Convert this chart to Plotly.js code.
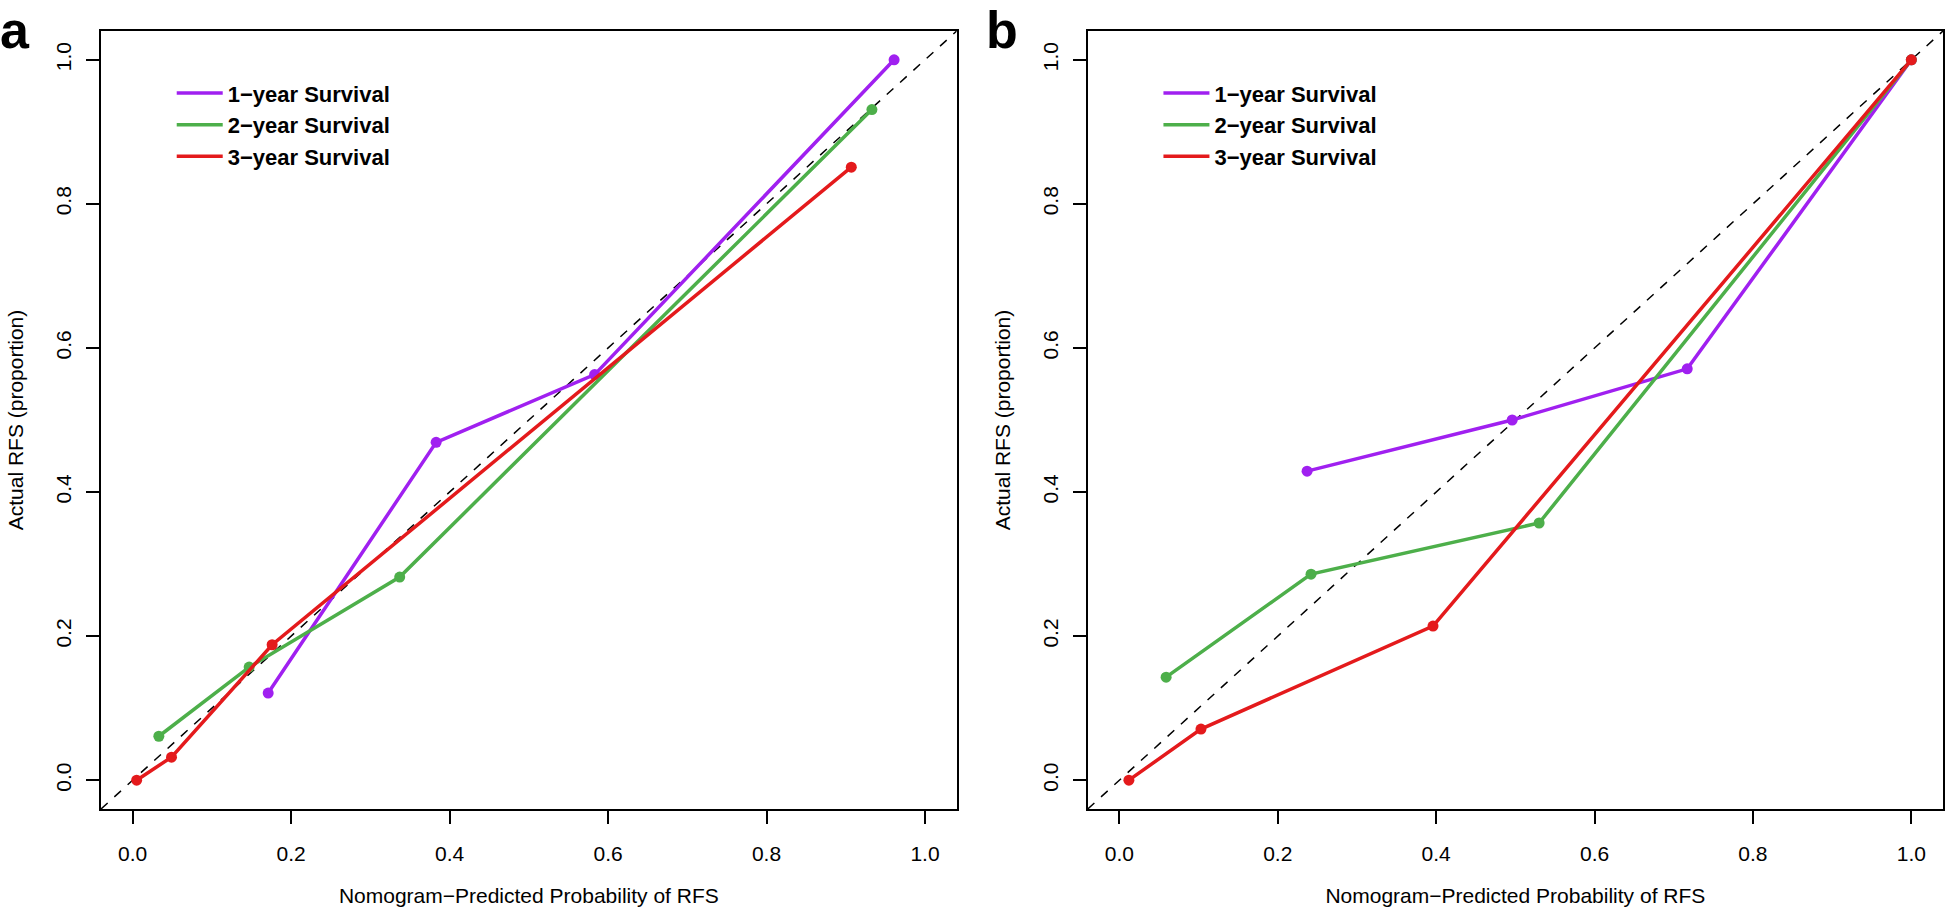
<!DOCTYPE html>
<html>
<head>
<meta charset="utf-8">
<script src="https://cdn.plot.ly/plotly-3.0.1.min.js"></script>
<style>html,body{margin:0;padding:0;background:#fff;}#chart{width:1946px;height:915px;}</style>
</head>
<body>
<div id="chart"></div>
<script>
// ---- data ----
const seriesNames = ['1\u2212year Survival', '2\u2212year Survival', '3\u2212year Survival'];
const seriesColors = ['#A020F0', '#4DAF4A', '#E41A1C'];

// panel a
const a1x = [0.171, 0.383, 0.583, 0.961];
const a1y = [0.121, 0.469, 0.563, 1.000];
const a2x = [0.033, 0.147, 0.337, 0.933];
const a2y = [0.061, 0.157, 0.282, 0.931];
const a3x = [0.005, 0.049, 0.176, 0.907];
const a3y = [0.000, 0.032, 0.188, 0.851];

// panel b
const b1x = [0.237, 0.496, 0.717, 1.000];
const b1y = [0.429, 0.500, 0.571, 1.000];
const b2x = [0.059, 0.242, 0.530, 1.000];
const b2y = [0.143, 0.286, 0.357, 1.000];
const b3x = [0.012, 0.103, 0.396, 1.000];
const b3y = [0.000, 0.071, 0.214, 1.000];

const tickVals = [0, 0.2, 0.4, 0.6, 0.8, 1.0];
const tickText = ['0.0', '0.2', '0.4', '0.6', '0.8', '1.0'];
const axisRange = [-0.04, 1.04];
const xTitle = 'Nomogram\u2212Predicted Probability of RFS';
const yTitle = 'Actual RFS (proportion)';
const panelLabels = ['a', 'b'];

// ---- build ----
const FONT = 'Liberation Sans, Arial, Helvetica, sans-serif';
const traces = [];
function addSeries(xs, ys, i, xa, ya, legendId) {
  traces.push({
    x: xs, y: ys, xaxis: xa, yaxis: ya, type: 'scatter', mode: 'lines',
    name: seriesNames[i], legend: legendId, showlegend: true,
    line: {color: seriesColors[i], width: 3.5}, hoverinfo: 'skip'
  });
  traces.push({
    x: xs, y: ys, xaxis: xa, yaxis: ya, type: 'scatter', mode: 'markers',
    name: seriesNames[i], showlegend: false,
    marker: {color: seriesColors[i], size: 11}, hoverinfo: 'x+y'
  });
}
addSeries(a1x, a1y, 0, 'x', 'y', 'legend');
addSeries(a2x, a2y, 1, 'x', 'y', 'legend');
addSeries(a3x, a3y, 2, 'x', 'y', 'legend');
addSeries(b1x, b1y, 0, 'x2', 'y2', 'legend2');
addSeries(b2x, b2y, 1, 'x2', 'y2', 'legend2');
addSeries(b3x, b3y, 2, 'x2', 'y2', 'legend2');

function axis(extra) {
  return Object.assign({
    range: axisRange, showgrid: false, zeroline: false,
    showline: true, mirror: true, linecolor: '#000', linewidth: 1.5,
    ticks: 'outside', ticklen: 13, tickwidth: 1.5, tickcolor: '#000',
    tickmode: 'array', tickvals: tickVals, ticktext: tickText,
    tickfont: {family: FONT, size: 21, color: '#000'},
    fixedrange: true
  }, extra);
}

const W = 1946, H = 915;
const M = {l: 101.3, r: 3.3, t: 30.7, b: 106};
const PW = W - M.l - M.r, PH = H - M.t - M.b;
const px = v => (v - M.l) / PW;      // page px -> paper x
const py = v => (H - M.b - v) / PH;  // page px -> paper y

const legendCommon = {
  xanchor: 'left', yanchor: 'top', bgcolor: 'rgba(0,0,0,0)', borderwidth: 0,
  font: {family: FONT, size: 22, color: '#000', weight: 'bold'},
  itemwidth: 46, tracegroupgap: 0
};

const titleFont = {family: FONT, size: 21, color: '#000'};
const layout = {
  width: W, height: H, margin: M,
  paper_bgcolor: '#fff', plot_bgcolor: '#fff',
  font: {family: FONT, color: '#000'},
  xaxis: axis({domain: [0, px(956.7)], anchor: 'y', ticklabelstandoff: 12,
    title: {text: xTitle, font: titleFont, standoff: 24}}),
  yaxis: axis({domain: [0, 1], anchor: 'x', tickangle: -90, ticklabelstandoff: 7,
    title: {text: yTitle, font: titleFont, standoff: 22}}),
  xaxis2: axis({domain: [px(1087.7), 1], anchor: 'y2', ticklabelstandoff: 12,
    title: {text: xTitle, font: titleFont, standoff: 24}}),
  yaxis2: axis({domain: [0, 1], anchor: 'x2', tickangle: -90, ticklabelstandoff: 7,
    title: {text: yTitle, font: titleFont, standoff: 22}}),
  legend: Object.assign({x: px(172), y: py(72)}, legendCommon),
  legend2: Object.assign({x: px(172 + 986.4), y: py(72)}, legendCommon),
  shapes: [
    {type: 'line', xref: 'x', yref: 'y', x0: axisRange[0], y0: axisRange[0], x1: axisRange[1], y1: axisRange[1],
     line: {color: '#000', width: 1.5, dash: 'dash'}, layer: 'below'},
    {type: 'line', xref: 'x2', yref: 'y2', x0: axisRange[0], y0: axisRange[0], x1: axisRange[1], y1: axisRange[1],
     line: {color: '#000', width: 1.5, dash: 'dash'}, layer: 'below'}
  ],
  annotations: [
    {text: panelLabels[0], xref: 'paper', yref: 'paper', x: px(-1), y: py(0), xanchor: 'left', yanchor: 'top',
     showarrow: false, borderpad: 0, font: {family: FONT, size: 52, color: '#000', weight: 'bold'}},
    {text: panelLabels[1], xref: 'paper', yref: 'paper', x: px(985.4), y: py(0), xanchor: 'left', yanchor: 'top',
     showarrow: false, borderpad: 0, font: {family: FONT, size: 52, color: '#000', weight: 'bold'}}
  ]
};

Plotly.newPlot('chart', traces, layout, {displayModeBar: false});
</script>
</body>
</html>
